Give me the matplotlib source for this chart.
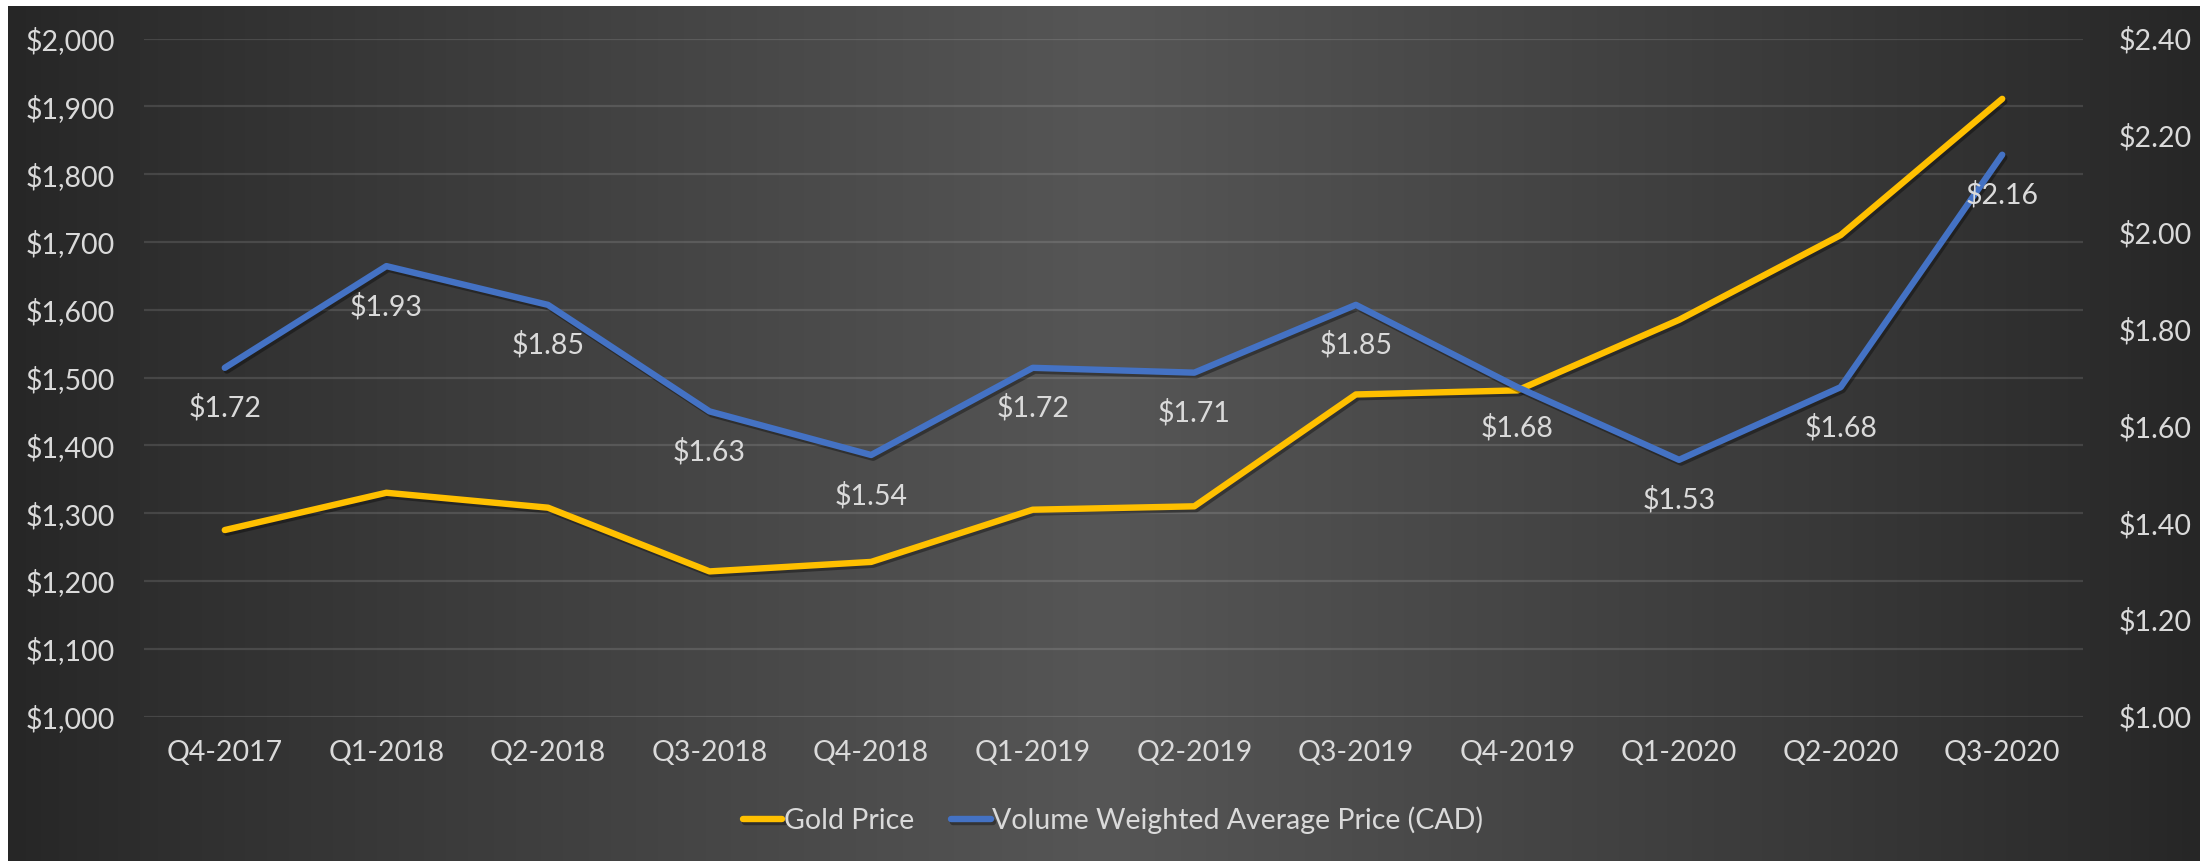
import numpy as np
import matplotlib
matplotlib.use("Agg")
import matplotlib.pyplot as plt
import matplotlib.patheffects as pe
from matplotlib.ticker import FuncFormatter

# ==========================================
# 数据
# ==========================================
quarters = ["Q4-2017", "Q1-2018", "Q2-2018", "Q3-2018", "Q4-2018", "Q1-2019",
            "Q2-2019", "Q3-2019", "Q4-2019", "Q1-2020", "Q2-2020", "Q3-2020"]
gold_price = [1275, 1330, 1308, 1214, 1228, 1305, 1310, 1475, 1481, 1585, 1710, 1911]
vwap_cad = [1.72, 1.93, 1.85, 1.63, 1.54, 1.72, 1.71, 1.85, 1.68, 1.53, 1.68, 2.16]

GOLD = "#FFC000"
BLUE = "#4472C4"
TXT = "#DADADA"
FS = 20.5

plt.rcParams['font.family'] = ['Lato', 'DejaVu Sans']

W, H = 2200, 861
fig = plt.figure(figsize=(W / 100, H / 100), dpi=100, facecolor="white")

# 背景渐变 (左右暗, 中间亮)
bg = fig.add_axes([8 / W, 0, 1 - 8 / W, (H - 6) / H], zorder=0)
xs = np.linspace(-1, 1, 600)
shade = 0x26 + (0x56 - 0x26) * (1 - np.abs(xs)) ** 0.9
img = np.tile(shade / 255.0, (50, 1))
bg.imshow(np.dstack([img, img, img]), aspect="auto", extent=[0, 1, 0, 1])
bg.axis('off')

ax1 = fig.add_axes([144 / W, 1 - 716.5 / H, (2083 - 144) / W, (716.5 - 38.5) / H], zorder=1)
ax1.set_facecolor("none")
ax2 = ax1.twinx()

x = np.arange(len(quarters))
shadow = [pe.SimpleLineShadow(offset=(1.5, -2), alpha=0.35, shadow_color="black"), pe.Normal()]

l1, = ax1.plot(x, gold_price, color=GOLD, lw=4.6, solid_capstyle="round",
               solid_joinstyle="round", label="Gold Price", path_effects=shadow)
l2, = ax2.plot(x, vwap_cad, color=BLUE, lw=4.6, solid_capstyle="round",
               solid_joinstyle="round", label="Volume Weighted Average Price (CAD)",
               path_effects=shadow)

for xi, v in zip(x, vwap_cad):
    ax2.annotate(f"${v:.2f}", (xi, v), xytext=(0, -29), textcoords="offset points",
                 ha="center", va="center", color=TXT, fontsize=FS)

ax1.set_xlim(-0.5, len(quarters) - 0.5)
ax1.set_ylim(1000, 2000)
ax1.set_yticks(np.arange(1000, 2001, 100))
ax2.set_ylim(1.0, 2.4)
ax2.set_yticks(np.arange(1.0, 2.41, 0.2))

ax1.yaxis.set_major_formatter(FuncFormatter(lambda v, p: f"${v:,.0f}"))
ax2.yaxis.set_major_formatter(FuncFormatter(lambda v, p: f"${v:.2f}"))

ax1.set_xticks(x)
ax1.set_xticklabels(quarters)

ax1.grid(axis='y', color="white", alpha=0.12, lw=1.6)
ax1.set_axisbelow(True)

for ax in (ax1, ax2):
    for s in ax.spines.values():
        s.set_visible(False)
    ax.tick_params(length=0, colors=TXT, labelsize=FS)
ax1.tick_params(axis='y', pad=21)
ax2.tick_params(axis='y', pad=26)
ax1.tick_params(axis='x', pad=17)

fig.legend(handles=[l1, l2], loc="center", bbox_to_anchor=(1113 / W, 1 - 820 / H),
           ncol=2, frameon=False, fontsize=FS, labelcolor=TXT, handlelength=1.4,
           handletextpad=0.05, columnspacing=1.3)

fig.savefig("out.png", dpi=100, facecolor="white")
